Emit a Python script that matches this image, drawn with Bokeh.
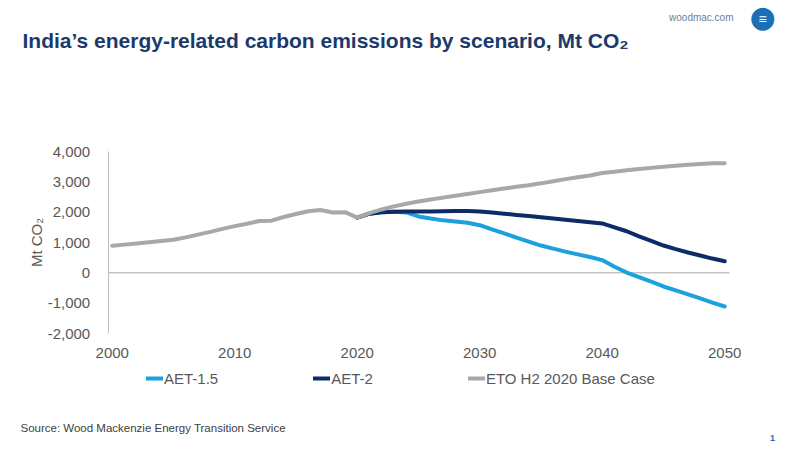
from bokeh.plotting import figure
from bokeh.models import Range1d, Label, Legend, LegendItem, NumeralTickFormatter, FixedTicker
from bokeh.embed import file_html
from bokeh.resources import INLINE

# ---- data ----
eto_years = list(range(2000, 2051))
eto_base = [890, 930, 970, 1010, 1050, 1090, 1170, 1260, 1350, 1450,
            1540, 1620, 1710, 1720, 1840, 1940, 2030, 2070, 1990, 2000,
            1820, 1970, 2090, 2190, 2280, 2350, 2420, 2480, 2540, 2600,
            2660, 2720, 2780, 2840, 2890, 2950, 3020, 3090, 3150, 3210,
            3290, 3330, 3380, 3420, 3460, 3500, 3530, 3560, 3590, 3610, 3610]
aet_years = list(range(2020, 2051))
aet2 = [1820, 1950, 2000, 2010, 2020, 2025, 2025, 2030, 2035, 2040,
        2025, 1990, 1950, 1910, 1870, 1835, 1790, 1750, 1710, 1670,
        1630, 1500, 1370, 1200, 1050, 900, 780, 670, 570, 470, 380]
aet15 = [1820, 1950, 2000, 2010, 1990, 1860, 1790, 1730, 1690, 1650,
         1570, 1430, 1300, 1160, 1030, 900, 800, 700, 610, 520,
         420, 200, 10, -140, -290, -450, -580, -710, -840, -980, -1110]
series_names = ["AET-1.5", "AET-2", "ETO H2 2020 Base Case"]
x_ticks = [2000, 2010, 2020, 2030, 2040, 2050]
y_ticks = [-2000, -1000, 0, 1000, 2000, 3000, 4000]

C_LIGHT = "#1BA1DB"
C_NAVY = "#0C2B67"
C_GRAY = "#A8A8A8"
TXT = "#595959"
FONT = "Liberation Sans"
W, H = 800, 450

# plot area on the page: x 1999.67..2050.39 -> px 107.7..729 ; y -2000..4000 -> px 333..151
X0, X1, PX0, PX1 = 1999.67, 2050.39, 107.7, 729.0
Y0, Y1, PY0, PY1 = -2000, 4000, 333.0, 151.0
sx = (PX1 - PX0) / (X1 - X0)
sy = (PY0 - PY1) / (Y1 - Y0)
xr = Range1d(X0 - PX0 / sx, X1 + (W - PX1) / sx)
yr = Range1d(Y0 - (H - PY0) / sy, Y1 + PY1 / sy)

p = figure(width=W, height=H, output_backend="svg", toolbar_location=None,
           x_range=xr, y_range=yr, min_border=0)
p.outline_line_color = None
p.xgrid.visible = False
p.ygrid.visible = False

# axes fixed inside the full-canvas frame
p.xaxis.fixed_location = Y0
p.xaxis.bounds = (x_ticks[0], x_ticks[-1])
p.xaxis.ticker = FixedTicker(ticks=x_ticks)
p.xaxis.axis_line_color = None
p.xaxis.major_tick_line_color = None
p.xaxis.minor_tick_line_color = None
p.xaxis.major_label_standoff = 8
p.xaxis.major_label_text_font = FONT
p.xaxis.major_label_text_font_size = "15px"
p.xaxis.major_label_text_color = TXT

p.yaxis.fixed_location = X0
p.yaxis.bounds = (Y0, Y1)
p.yaxis.ticker = FixedTicker(ticks=y_ticks)
p.yaxis.formatter = NumeralTickFormatter(format="0,0")
p.yaxis.axis_line_color = "#BFBFBF"
p.yaxis.major_tick_line_color = None
p.yaxis.minor_tick_line_color = None
p.yaxis.major_label_standoff = 12
p.yaxis.major_label_text_font = FONT
p.yaxis.major_label_text_font_size = "15px"
p.yaxis.major_label_text_color = TXT
p.yaxis.axis_label = "Mt CO\u2082"
p.yaxis.axis_label_text_font = FONT
p.yaxis.axis_label_text_font_style = "normal"
p.yaxis.axis_label_text_font_size = "15px"
p.yaxis.axis_label_text_color = TXT
p.yaxis.axis_label_standoff = 0

# zero line across the plot area
p.line([X0, X1], [0, 0], line_color="#A6A6A6", line_width=1)

r15 = p.line(aet_years, aet15, line_color=C_LIGHT, line_width=4, line_join="round", line_cap="round")
r2 = p.line(aet_years, aet2, line_color=C_NAVY, line_width=4, line_join="round", line_cap="round")
reto = p.line(eto_years, eto_base, line_color=C_GRAY, line_width=4, line_join="round", line_cap="round")

legend = Legend(items=[LegendItem(label=series_names[0], renderers=[r15]),
                       LegendItem(label=series_names[1], renderers=[r2]),
                       LegendItem(label=series_names[2], renderers=[reto])],
                orientation="horizontal", location=(146, H - 368 - 20),
                glyph_width=17, glyph_height=20, label_standoff=1, spacing=95,
                padding=0, margin=0, border_line_color=None, background_fill_alpha=0,
                label_text_font=FONT, label_text_font_size="15px", label_text_color=TXT)
p.add_layout(legend)

def lab(text, px, py, font=FONT, **kw):
    p.add_layout(Label(x=px, y=H - py, x_units="screen", y_units="screen", text=text,
                       text_font=font, **kw))

lab("India\u2019s energy-related carbon emissions by scenario, Mt CO\u2082", 22, 40,
    text_font_style="bold", text_font_size="21px", text_color="#1B3A6B",
    text_baseline="alphabetic")
lab("Source: Wood Mackenzie Energy Transition Service", 20, 427,
    text_font_size="11.5px", text_color="#404040", text_baseline="middle")
lab("woodmac.com", 733, 17, text_font_size="10px", text_color="#6B7F99",
    text_align="right", text_baseline="middle")
lab("1", 772, 437, text_font_size="9px", text_font_style="bold", text_color="#1B6FB5",
    text_align="center", text_baseline="middle")
# logo: blue disc with white stripes
lab("\u25CF", 762, 16, font="DejaVu Sans", text_font_size="30px", text_color="#1B6FB5",
    text_align="center", text_baseline="middle")
lab("\u2261", 762, 18, text_font_size="14px", text_font_style="bold", text_color="white",
    text_align="center", text_baseline="middle")

open("out.html", "w").write(file_html(p, INLINE))
